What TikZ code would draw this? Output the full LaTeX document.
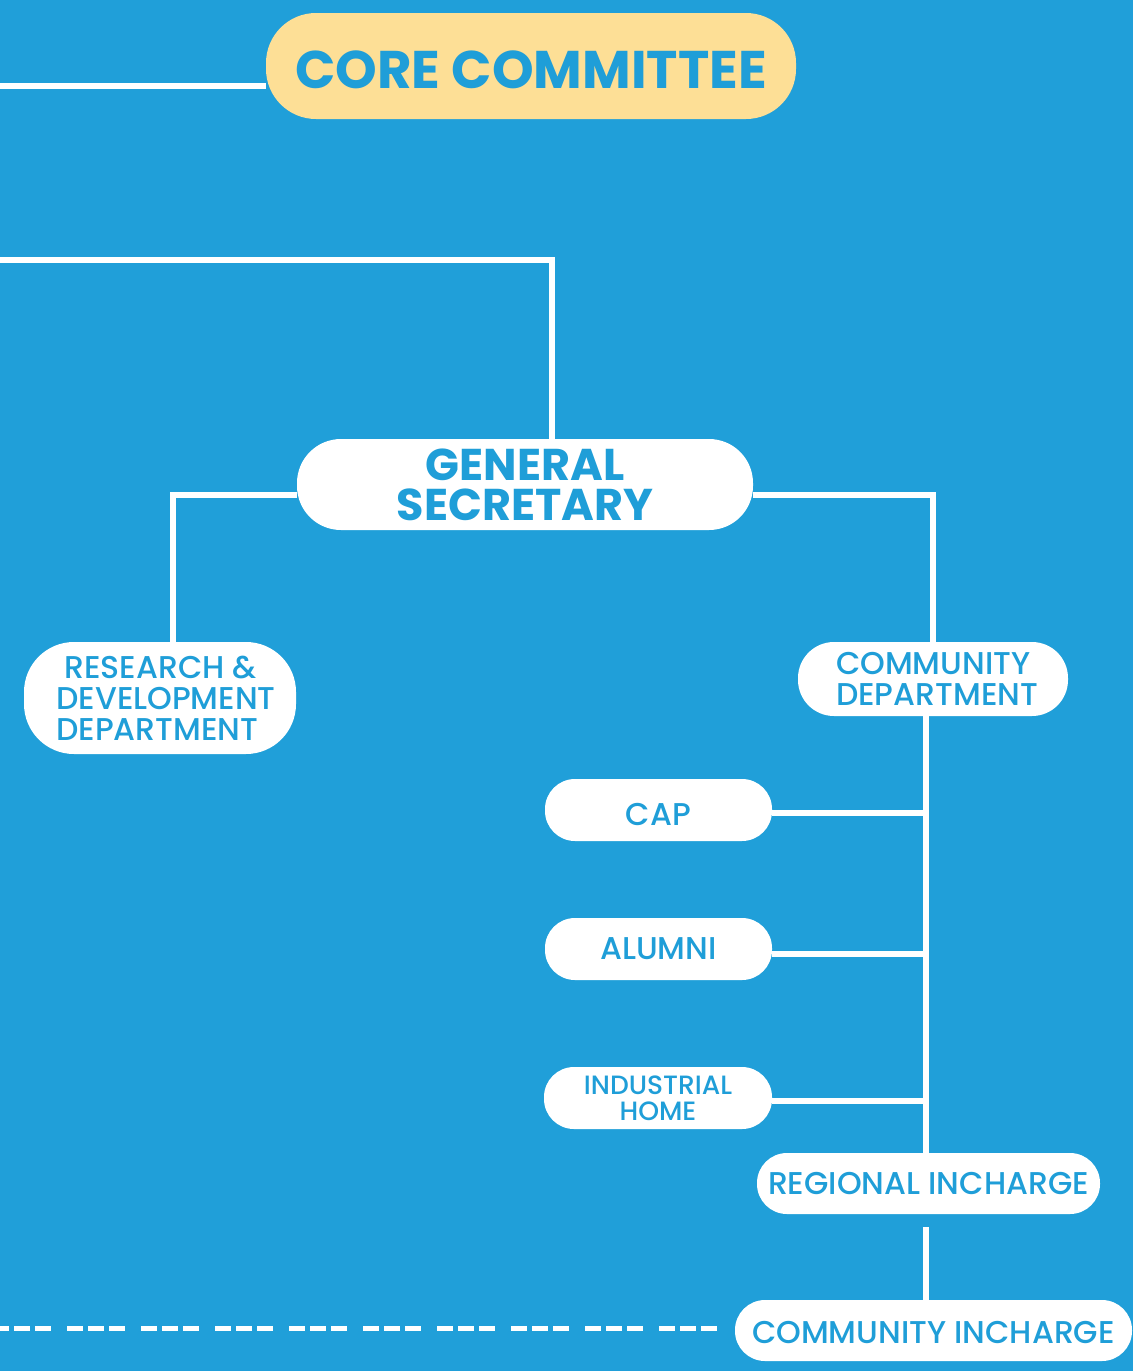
\documentclass[tikz,border=0pt]{standalone}
\usepackage{fontspec}
\setmainfont{Poppins}
\newfontfamily\pmed{Poppins Medium}
\definecolor{bgblue}{HTML}{209FD9}
\definecolor{txtblue}{HTML}{1F9ED8}
\definecolor{paleyellow}{HTML}{FDDF96}
\pgfdeclarelayer{back}
\pgfdeclarelayer{bg}
\pgfsetlayers{back,bg,main}
\begin{document}
\begin{tikzpicture}[x=1pt,y=-1pt,
  pill/.style={draw=none,fill=white,text=txtblue,inner sep=0pt,rectangle},
  wire/.style={draw=white,line width=6pt},
  dashwire/.style={draw=white,line width=5.5pt,dash pattern=on 16pt off 5pt on 16pt off 5pt on 16pt off 16pt,dash phase=7pt},
  regular/.style={font=\pmed\fontsize{31.5}{31}\selectfont},
]
\begin{pgfonlayer}{back}
\fill[bgblue] (0,0) rectangle (1133,1371);
\end{pgfonlayer}
\useasboundingbox (0,0) rectangle (1133,1371);

\node[pill,fill=paleyellow,minimum width=530pt,minimum height=106pt,rounded corners=50pt,
  text height=45pt,text depth=0pt,
  font=\fontsize{53}{53}\bfseries\selectfont] (core) at (531,66) {CORE COMMITTEE};
\node[pill,minimum width=456pt,minimum height=91pt,rounded corners=44pt,align=center,
  font=\fontsize{44.5}{40}\bfseries\selectfont] (gs) at (525,484.5) {GENERAL\\SECRETARY};
\node[pill,minimum width=272pt,minimum height=112pt,rounded corners=50pt,align=left,regular] (rd) at (160,698)
  {\hspace*{20pt}RESEARCH \&\\\hspace*{12pt}DEVELOPMENT\\\hspace*{12pt}DEPARTMENT};
\node[pill,minimum width=270pt,minimum height=74pt,rounded corners=36pt,align=left,
  font=\pmed\fontsize{31.5}{31}\selectfont] (cd) at (933,679) {\hspace*{8pt}COMMUNITY\\\hspace*{8pt}DEPARTMENT};
\node[pill,minimum width=227pt,minimum height=62pt,rounded corners=30pt,regular,
  text height=31.4pt,text depth=0pt] (cap) at (658.5,810) {CAP};
\node[pill,minimum width=227pt,minimum height=62pt,rounded corners=30pt,regular] (alumni) at (658.5,949) {ALUMNI};
\node[pill,minimum width=228pt,minimum height=62pt,rounded corners=30pt,align=center,
  font=\pmed\fontsize{26.5}{26}\selectfont] (ind) at (658,1098) {INDUSTRIAL\\HOME};
\node[pill,minimum width=343pt,minimum height=61pt,rounded corners=30pt,regular] (ri) at (928.5,1183.5) {REGIONAL INCHARGE};
\node[pill,minimum width=397pt,minimum height=61pt,rounded corners=30pt,regular,
  text height=26.4pt,text depth=0pt] (ci) at (933.5,1330.5) {COMMUNITY INCHARGE};

\coordinate (l1) at (0,86);
\coordinate (l2) at (0,260);
\coordinate (trunk) at (925.5,716);
\coordinate (v2) at (926,1227);
\coordinate (d0) at (0,1328.5);

\begin{pgfonlayer}{bg}
\draw[wire] (l1) -- (l1 -| core.west);
\draw[wire] (l2) -| ([xshift=26.5pt]gs.north);
\draw[wire] ([yshift=-10pt]gs.west) -| ([xshift=13pt]rd.north);
\draw[wire] ([yshift=-10pt]gs.east) -| (cd.north);
\draw[wire] (trunk) -- (trunk |- ri.north);
\draw[wire] ([yshift=-3pt]cap.east) -- ([yshift=-3pt]cap.east -| trunk);
\draw[wire] ([yshift=-4.5pt]alumni.east) -- ([yshift=-4.5pt]alumni.east -| trunk);
\draw[wire] ([yshift=-2.5pt]ind.east) -- ([yshift=-2.5pt]ind.east -| trunk);
\draw[wire] (v2) -- (v2 |- ci.north);
\draw[dashwire] (d0) -- ([xshift=-12pt]ci.west |- d0);
\end{pgfonlayer}
\end{tikzpicture}
\end{document}
